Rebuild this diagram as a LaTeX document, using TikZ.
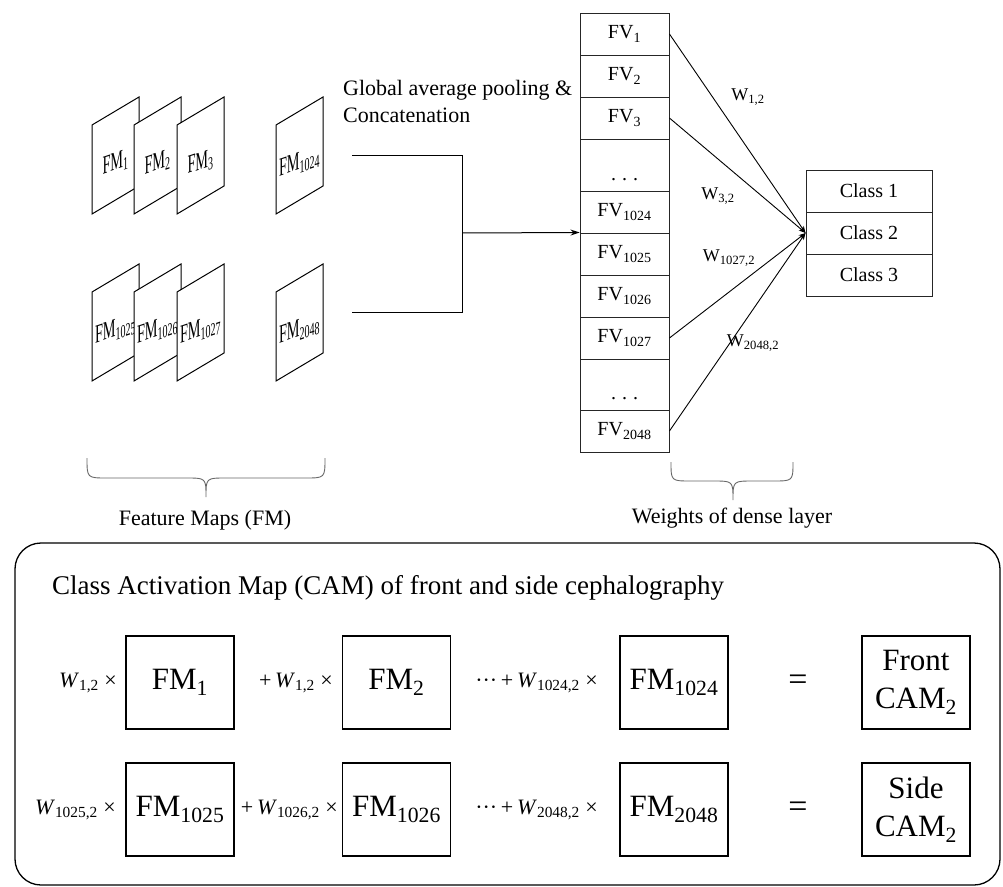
\documentclass[tikz,border=0pt]{standalone}
\usepackage{fontspec}
\setmainfont{Liberation Serif}
\usetikzlibrary{arrows.meta}
\newcommand\fmsheet[4]{%
  \draw[sheetline] ({#1},{#2+89}) -- ({#1},{#2}) -- ({#1+47},{#2-28}) -- ({#1+47},{#2+61}) -- cycle;
  \node[fmlabel] (#3) at ({#1+23.5},{#2+38}) {#4};}
\tikzset{
  sheetline/.style={draw=black, fill=white, line width=1pt},
  fmlabel/.style={inner sep=0pt, yslant=0.34, xscale=0.55, transform shape, font=\fontsize{26}{28}\selectfont},
  fvrow/.style={draw=black!85, line width=0.9pt, minimum width=89pt, inner sep=0pt, font=\fontsize{20}{24}\selectfont},
  clrow/.style={draw=black!85, line width=0.9pt, minimum width=126pt, minimum height=42pt, inner sep=0pt, font=\fontsize{20}{24}\selectfont},
  wlab/.style={inner sep=0pt, font=\fontsize{18}{22}\selectfont},
  conn/.style={line width=1pt, draw=black},
  camarrow/.style={line width=0.9pt, -{Stealth[length=7pt,width=5pt]}},
  bigbox/.style={draw=black, line width=1.7pt, minimum width=108pt, minimum height=93pt, inner sep=0pt, align=center, font=\fontsize{31}{38}\selectfont},
  eqtext/.style={inner sep=0pt, anchor=east, font=\fontsize{22}{24}\selectfont},
  eqsign/.style={inner sep=0pt, font=\fontsize{34}{36}\selectfont},
  caption/.style={inner sep=0pt, font=\fontsize{22}{26}\selectfont},
  bracestyle/.style={draw=black!60, line width=0.9pt}
}
\newcommand\Wt[1]{\textit{W}\textsubscript{#1}}
\begin{document}
\begin{tikzpicture}[x=1pt,y=-1pt]
\useasboundingbox (0,0) rectangle (1003,886);
% feature map sheets
\fmsheet{92}{125}{fm1}{FM\textsubscript{1}}
\fmsheet{134}{125}{fm2}{FM\textsubscript{2}}
\fmsheet{177}{125}{fm3}{FM\textsubscript{3}}
\fmsheet{276}{125}{fm1024}{FM\textsubscript{1024}}
\fmsheet{92}{292}{fm1025}{FM\textsubscript{1025}}
\fmsheet{134}{292}{fm1026}{FM\textsubscript{1026}}
\fmsheet{177}{292}{fm1027}{FM\textsubscript{1027}}
\fmsheet{276}{292}{fm2048}{FM\textsubscript{2048}}
% pooling text
\node[caption, anchor=west, align=left, font=\fontsize{22}{27}\selectfont] (gap) at (343,101) {Global average pooling \&\\Concatenation};
% bracket connector
\coordinate (t1) at (352,155);
\coordinate (t2) at (352,312);
\coordinate (jt) at (462,155);
\coordinate (jb) at (462,312);
\coordinate (jm) at (462,233);
\draw[conn] (t1) -- (jt) -- (jb) -- (t2);
% FV column
\node[fvrow, minimum height=42pt] (fv1) at (624.5,34) {FV\textsubscript{1}};
\node[fvrow, minimum height=42pt] (fv2) at (624.5,76) {FV\textsubscript{2}};
\node[fvrow, minimum height=42pt] (fv3) at (624.5,118) {FV\textsubscript{3}};
\node[fvrow, minimum height=52pt] (d1) at (624.5,165) {};
\node[fvrow, minimum height=42pt] (fv1024) at (624.5,212) {FV\textsubscript{1024}};
\node[fvrow, minimum height=42pt] (fv1025) at (624.5,254) {FV\textsubscript{1025}};
\node[fvrow, minimum height=42pt] (fv1026) at (624.5,296) {FV\textsubscript{1026}};
\node[fvrow, minimum height=42pt] (fv1027) at (624.5,338) {FV\textsubscript{1027}};
\node[fvrow, minimum height=51pt] (d2) at (624.5,384.5) {};
\node[fvrow, minimum height=42pt] (fv2048) at (624.5,431) {FV\textsubscript{2048}};
\node[inner sep=0pt, anchor=base, font=\fontsize{20}{24}\selectfont] (dots1) at (624.5,180) {.\hspace{0.3em}.\hspace{0.3em}.};
\node[inner sep=0pt, anchor=base, font=\fontsize{20}{24}\selectfont] (dots2) at (624.5,399) {.\hspace{0.3em}.\hspace{0.3em}.};
\path (fv1.north west) -- (fv2048.south west) coordinate[pos=0.5] (colw);
\draw[conn, -{Stealth[length=9pt,width=6pt]}] (jm) -- (colw);
% class box
\node[clrow] (c1) at (869,191) {Class 1};
\node[clrow] (c2) at (869,233) {Class 2};
\node[clrow] (c3) at (869,275) {Class 3};
% weight connectors
\draw[camarrow] (fv1.east) -- (c2.west);
\draw[camarrow] (fv3.east) -- (c2.west);
\draw[camarrow] (fv1027.east) -- (c2.west);
\draw[camarrow] (fv2048.east) -- (c2.west);
\node[wlab] (w12) at (748,97) {W\textsubscript{1,2}};
\node[wlab] (w32) at (718,196) {W\textsubscript{3,2}};
\node[wlab] (w10272) at (729,258) {W\textsubscript{1027,2}};
\node[wlab] (w20482) at (753,343) {W\textsubscript{2048,2}};
% braces
\draw[bracestyle] (87,458) .. controls (87,478) .. (107,478) -- (186,478) .. controls (206,478) .. (206,497) .. controls (206,478) .. (226,478) -- (305,478) .. controls (325,478) .. (325,458);
\draw[bracestyle] (671,462) .. controls (671,481) .. (691,481) -- (713,481) .. controls (733,481) .. (733,500) .. controls (733,481) .. (753,481) -- (773,481) .. controls (793,481) .. (793,462);
\node[caption] (fmcap) at (205,520) {Feature Maps (FM)};
\node[caption] (wcap) at (732,518) {Weights of dense layer};
% CAM panel
\draw[line width=1.3pt, rounded corners=26pt] (15,543) rectangle (1000,885);
\node[inner sep=0pt, anchor=west, font=\fontsize{27}{30}\selectfont] (title) at (52,588) {Class Activation Map (CAM) of front and side cephalography};
\node[bigbox] (b1) at (180,682.5) {FM\textsubscript{1}};
\node[bigbox] (b2) at (396.5,682.5) {FM\textsubscript{2}};
\node[bigbox] (b1024) at (674,682.5) {FM\textsubscript{1024}};
\node[bigbox] (camf) at (916,682.5) {Front\\CAM\textsubscript{2}};
\node[bigbox] (b1025) at (180,809.5) {FM\textsubscript{1025}};
\node[bigbox] (b1026) at (396.5,809.5) {FM\textsubscript{1026}};
\node[bigbox] (b2048) at (674,809.5) {FM\textsubscript{2048}};
\node[bigbox] (cams) at (916,809.5) {Side\\CAM\textsubscript{2}};
\node[eqtext] (e1) at (117,683) {\Wt{1,2} ×};
\node[eqtext] (e2) at (333,683) {+\,\Wt{1,2} ×};
\node[eqtext] (e3) at (598,683) {···\,+\,\Wt{1024,2} ×};
\node[eqtext] (e4) at (116,810) {\Wt{1025,2} ×};
\node[eqtext] (e5) at (338,810) {+\,\Wt{1026,2} ×};
\node[eqtext] (e6) at (598,810) {···\,+\,\Wt{2048,2} ×};
\node[eqsign] (eq1) at (798,683) {=};
\node[eqsign] (eq2) at (798,810) {=};
\end{tikzpicture}
\end{document}
